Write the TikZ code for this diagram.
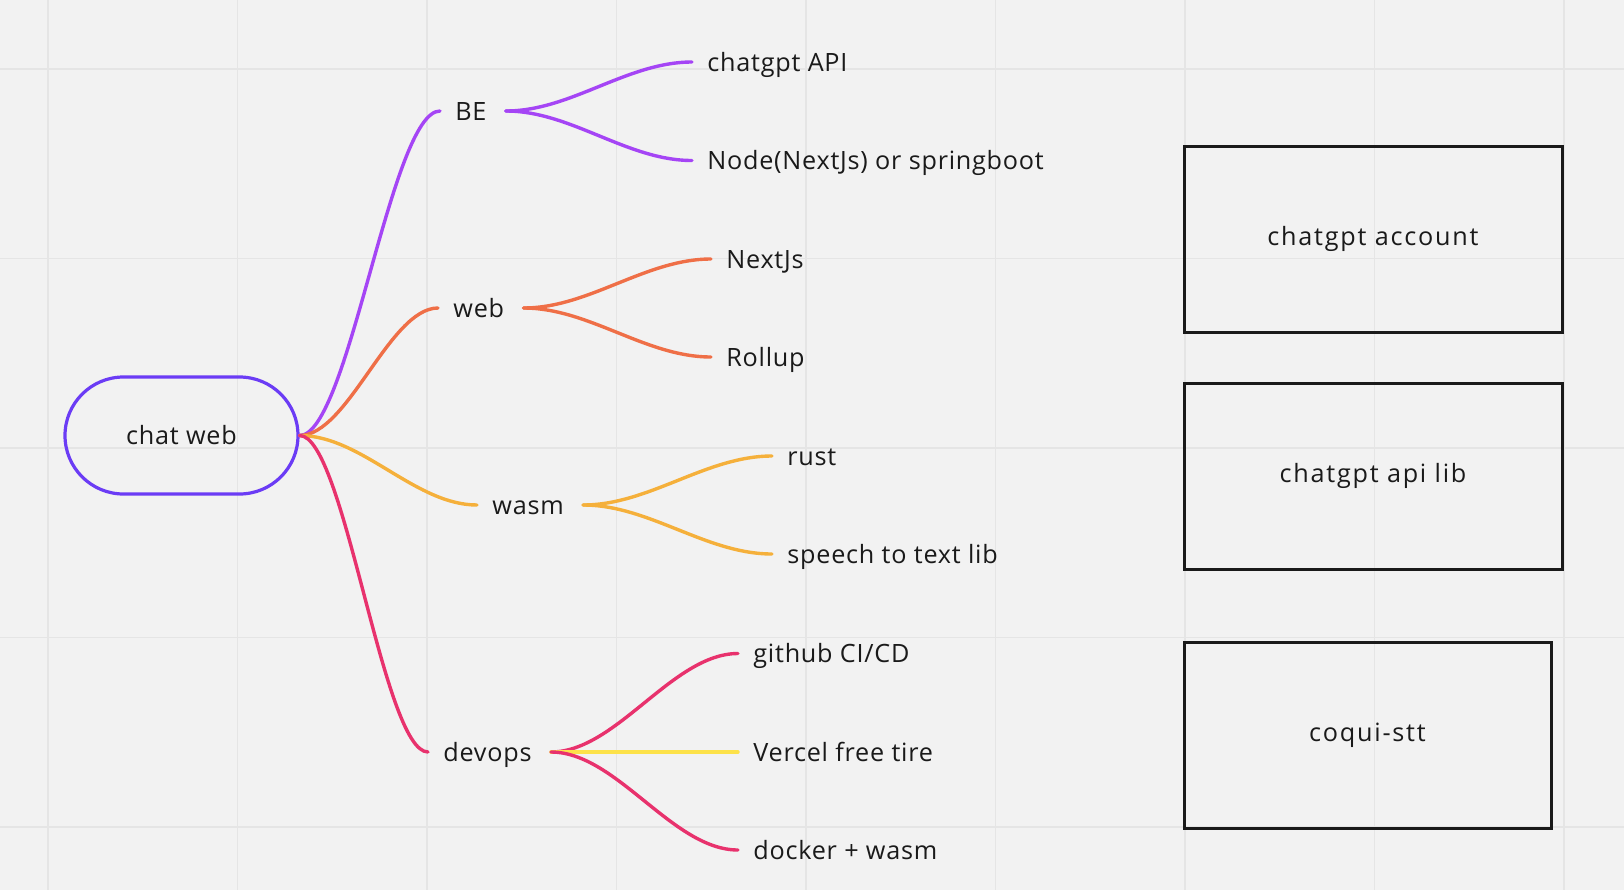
\documentclass[tikz,border=0pt]{standalone}
\usepackage{fontspec}
\setmainfont{Open Sans}[LetterSpace=3]
\newfontfamily\boxfont{Open Sans}[LetterSpace=7]
\usetikzlibrary{calc}
\definecolor{bgc}{HTML}{F2F2F2}
\definecolor{gridc}{HTML}{E5E5E5}
\definecolor{rootc}{HTML}{6B3CF5}
\definecolor{bec}{HTML}{A545F5}
\definecolor{webc}{HTML}{EF6F47}
\definecolor{wasmc}{HTML}{F5B03B}
\definecolor{opsc}{HTML}{E8326D}
\definecolor{vercelc}{HTML}{FDE24A}
\definecolor{ink}{HTML}{1A1A1A}
\begin{document}
\begin{tikzpicture}[
x=0.5pt,y=-0.5pt,
every node/.style={font=\fontsize{12.6}{15}\selectfont,text=ink,inner xsep=7.5pt,inner ysep=1pt,text height=10.4pt,text depth=1pt},
topic/.style={anchor=west},
root/.style={draw=rootc,line width=1.6pt,rounded corners=29.25pt,minimum width=116.5pt,minimum height=58.5pt},
box/.style={draw=ink,line width=1.5pt,minimum width=189pt,minimum height=93pt,text depth=4pt,font=\boxfont\fontsize{12.6}{15}\selectfont},
gridline/.style={draw=gridc,line width=0.85pt},
branch/.style={line width=1.7pt,line cap=round,draw=#1,
  to path={let \p1=(\tikztostart),\p2=(\tikztotarget),\n1={0.35*(\x2-\x1)} in
    (\p1) .. controls +(\n1,0) and +(-\n1,0) .. (\p2)}},
]
\useasboundingbox[fill=bgc] (0,0) rectangle (1624,890);
\foreach \gx in {0,...,8} \draw[gridline] (48+189.5*\gx,0) -- ++(0,890);
\foreach \gy in {0,...,4} \draw[gridline] (0,69+189.5*\gy) -- ++(1624,0);

\node[root] (root) at (181.5,435.5) {chat web};

\node[topic] (be) at (440,111) {BE};
\node[topic] (web) at (438,308) {web};
\node[topic] (wasm) at (477,505) {wasm};
\node[topic] (devops) at (428,752) {devops};

\node[topic] (api) at (692,62) {chatgpt API};
\node[topic] (springboot) at (692,160.5) {Node(NextJs) or springboot};
\node[topic] (nextjs) at (711,259) {NextJs};
\node[topic] (rollup) at (711,357) {Rollup};
\node[topic] (rust) at (772,456) {rust};
\node[topic] (stt) at (772,554) {speech to text lib};
\node[topic] (github) at (738,653.5) {github CI/CD};
\node[topic] (vercel) at (738,752) {Vercel free tire};
\node[topic] (docker) at (738,850) {docker + wasm};

\node[box] (account) at (1373,239) {chatgpt account};
\node[box] (apilib) at (1373,476) {chatgpt api lib};
\node[box,minimum width=183.5pt] (coqui) at (1367.5,735.5) {coqui-stt};

% main branches
\draw[branch=bec] (root.east) to (be.west);
\draw[branch=webc] (root.east) to (web.west);
\draw[branch=wasmc] (root.east) to (wasm.west);
\draw[branch=opsc] (root.east) to (devops.west);

% sub branches
\draw[branch=bec] ([xshift=2pt]be.east) to (api.west);
\draw[branch=bec] ([xshift=2pt]be.east) to (springboot.west);
\draw[branch=webc] ([xshift=2pt]web.east) to (nextjs.west);
\draw[branch=webc] ([xshift=2pt]web.east) to (rollup.west);
\draw[branch=wasmc] ([xshift=2pt]wasm.east) to (rust.west);
\draw[branch=wasmc] ([xshift=2pt]wasm.east) to (stt.west);
\draw[branch=opsc] ([xshift=2pt]devops.east) to (github.west);
\draw[branch=vercelc] ([xshift=2pt]devops.east) to (vercel.west);
\draw[branch=opsc] ([xshift=2pt]devops.east) to (docker.west);
\end{tikzpicture}
\end{document}
